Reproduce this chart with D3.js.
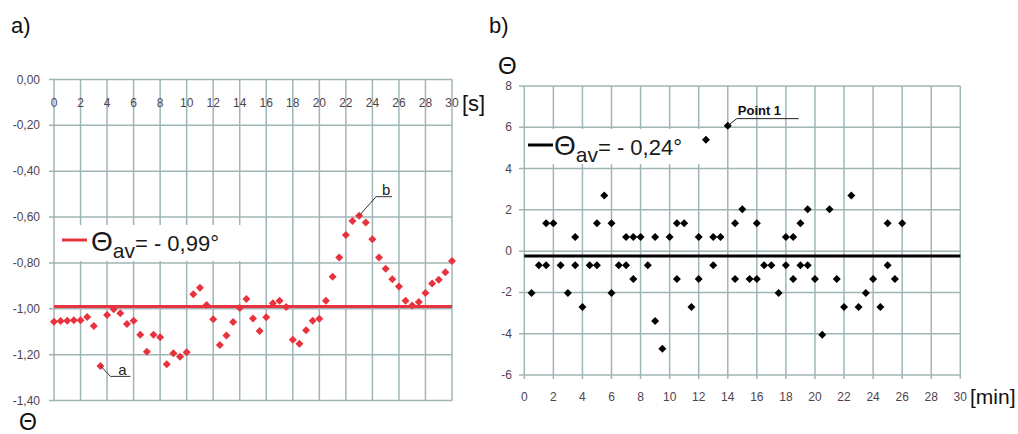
<!DOCTYPE html>
<html>
<head>
<meta charset="utf-8">
<script src="https://cdn.jsdelivr.net/npm/d3@7"></script>
<style>
  html, body { margin: 0; padding: 0; background: #fff; }
  svg { display: block; font-family: "Liberation Sans", Arial, sans-serif; }
</style>
</head>
<body>
<svg id="chart" width="1018" height="434"></svg>
<script>
// ---- Panel a: angle over 30 s, sampled every 0.5 s ----
const timeA = [0,0.5,1,1.5,2,2.5,3,3.5,4,4.5,5,5.5,6,6.5,7,7.5,8,8.5,9,9.5,10,10.5,11,11.5,12,12.5,13,13.5,14,14.5,15,15.5,16,16.5,17,17.5,18,18.5,19,19.5,20,20.5,21,21.5,22,22.5,23,23.5,24,24.5,25,25.5,26,26.5,27,27.5,28,28.5,29,29.5,30];
const thetaA = [-1.056,-1.053,-1.052,-1.050,-1.050,-1.036,-1.075,-1.249,-1.027,-1.002,-1.020,-1.066,-1.052,-1.113,-1.187,-1.113,-1.124,-1.242,-1.194,-1.209,-1.190,-0.937,-0.908,-0.983,-1.046,-1.158,-1.117,-1.058,-0.997,-0.957,-1.042,-1.097,-1.037,-0.976,-0.965,-0.992,-1.135,-1.153,-1.094,-1.052,-1.043,-0.965,-0.860,-0.776,-0.678,-0.617,-0.594,-0.624,-0.697,-0.776,-0.825,-0.871,-0.903,-0.965,-0.986,-0.970,-0.931,-0.890,-0.873,-0.841,-0.792];
const avgA = -0.99;
const yTicksA = [0,-0.2,-0.4,-0.6,-0.8,-1.0,-1.2,-1.4];
const xTicksA = [0,2,4,6,8,10,12,14,16,18,20,22,24,26,28,30];

// ---- Panel b: angle over 26 min ----
const timeB = [0.5,1,1.5,1.5,2,2.5,3,3.5,3.5,4,4.5,5,5,5.5,6,6,6.5,7,7,7.5,7.5,8,8.5,9,9,9.5,10,10.5,10.5,11,11.5,12,12,12.5,13,13,13.5,14,14.5,14.5,15,15.5,16,16,16.5,17,17.5,18,18,18.5,18.5,19,19,19.5,19.5,20,20.5,21,21.5,22,22.5,23,23.5,24,24.5,25,25,25.5,26];
const thetaB = [-2.03,-0.68,-0.68,1.35,1.35,-0.68,-2.03,-0.68,0.68,-2.70,-0.68,-0.68,1.35,2.70,1.35,-2.03,-0.68,-0.68,0.68,0.68,-1.35,0.68,-0.68,0.68,-3.38,-4.73,0.68,1.35,-1.35,1.35,-2.70,0.68,-1.35,5.40,0.68,-0.68,0.68,6.08,1.35,-1.35,2.03,-1.35,1.35,-1.35,-0.68,-0.68,-2.03,0.68,-0.68,0.68,-1.35,1.35,-0.68,2.03,-0.68,-1.35,-4.05,2.03,-1.35,-2.70,2.70,-2.70,-2.03,-1.35,-2.70,1.35,-0.68,-1.35,1.35];
const avgB = -0.24;
const yTicksB = [8,6,4,2,0,-2,-4,-6];
const xTicksB = [0,2,4,6,8,10,12,14,16,18,20,22,24,26,28,30];

const svg = d3.select("#chart");
const gridColor = "#a0b6b6";
const tickColor = "#4f4350";
const red = "#e8323e";
// two decimals, decimal comma, plain hyphen for negatives
const commaFmt = v => v.toFixed(2).replace(".", ",");

// ================= Panel a =================
const xA = d3.scaleLinear().domain([0, 30]).range([54, 452]);
const yA = d3.scaleLinear().domain([-1.4, 0]).range([400.5, 79.5]);
const gA = svg.append("g");

// horizontal gridlines with left tick stubs
gA.selectAll("line.hA").data(yTicksA).join("line")
  .attr("x1", 49).attr("x2", xA(30))
  .attr("y1", d => yA(d)).attr("y2", d => yA(d))
  .attr("stroke", gridColor).attr("stroke-width", 1.5);
// vertical gridlines
gA.selectAll("line.vA").data(xTicksA).join("line")
  .attr("x1", d => xA(d)).attr("x2", d => xA(d))
  .attr("y1", yA(0)).attr("y2", yA(-1.4))
  .attr("stroke", gridColor).attr("stroke-width", 1.5);

// y tick labels
gA.selectAll("text.ya").data(yTicksA).join("text")
  .attr("x", 40).attr("y", d => yA(d) + 4)
  .attr("text-anchor", "end").attr("font-size", 12).attr("fill", tickColor)
  .text(d => commaFmt(d));
// x tick labels just under the top axis
gA.selectAll("text.xa").data(xTicksA).join("text")
  .attr("x", d => xA(d)).attr("y", 107)
  .attr("text-anchor", "middle").attr("font-size", 12).attr("fill", tickColor)
  .text(d => d);

// legend box (covers gridlines)
gA.append("rect").attr("x", 56).attr("y", 225).attr("width", 190).attr("height", 36).attr("fill", "#fff");
gA.append("line").attr("x1", 62).attr("x2", 87).attr("y1", 240).attr("y2", 240)
  .attr("stroke", red).attr("stroke-width", 3);
const legA = gA.append("text").attr("x", 91).attr("y", 251).attr("fill", "#1a1a1a");
legA.append("tspan").attr("font-size", 28).text("Θ");
legA.append("tspan").attr("font-size", 21).attr("dy", 7).text("av");
legA.append("tspan").attr("font-size", 22).attr("dy", -7).text("= - 0,99°");

// average line
gA.append("line").attr("x1", xA(0)).attr("x2", xA(30))
  .attr("y1", yA(avgA)).attr("y2", yA(avgA))
  .attr("stroke", red).attr("stroke-width", 3);

// markers
const diamond = d3.symbol(d3.symbolSquare, 32)();
gA.selectAll("path.ma").data(timeA.map((t, i) => [t, thetaA[i]])).join("path")
  .attr("d", diamond)
  .attr("transform", d => `translate(${xA(d[0])},${yA(d[1])}) rotate(45)`)
  .attr("fill", red);

// annotations a and b
const ptA = [3.5, -1.249];
gA.append("polyline")
  .attr("points", `${xA(ptA[0])},${yA(ptA[1])} ${xA(ptA[0]) + 10},${yA(ptA[1]) + 10.5} ${xA(ptA[0]) + 30},${yA(ptA[1]) + 10.5}`)
  .attr("fill", "none").attr("stroke", "#333").attr("stroke-width", 1);
gA.append("text").attr("x", xA(ptA[0]) + 22).attr("y", yA(ptA[1]) + 9)
  .attr("text-anchor", "middle").attr("font-size", 15).attr("fill", "#222").text("a");
const ptB = [23, -0.594];
gA.append("polyline")
  .attr("points", `${xA(ptB[0])},${yA(ptB[1])} ${xA(ptB[0]) + 17},${yA(ptB[1]) - 19} ${xA(ptB[0]) + 33},${yA(ptB[1]) - 19}`)
  .attr("fill", "none").attr("stroke", "#333").attr("stroke-width", 1);
gA.append("text").attr("x", xA(ptB[0]) + 27).attr("y", yA(ptB[1]) - 21)
  .attr("text-anchor", "middle").attr("font-size", 15).attr("fill", "#222").text("b");

// titles / units
svg.append("text").attr("x", 11).attr("y", 33).attr("font-size", 22).attr("fill", "#111").text("a)");
svg.append("text").attr("x", 462).attr("y", 111).attr("font-size", 22).attr("fill", "#111").text("[s]");
svg.append("text").attr("x", 19).attr("y", 430).attr("font-size", 23).attr("fill", "#111").text("Θ");

// ================= Panel b =================
const xB = d3.scaleLinear().domain([0, 30]).range([524.3, 960.3]);
const yB = d3.scaleLinear().domain([-6, 8]).range([375, 86]);
const gB = svg.append("g");

gB.selectAll("line.hB").data(yTicksB).join("line")
  .attr("x1", 519).attr("x2", xB(30))
  .attr("y1", d => yB(d)).attr("y2", d => yB(d))
  .attr("stroke", gridColor).attr("stroke-width", 1.5);
gB.selectAll("line.vB").data(xTicksB).join("line")
  .attr("x1", d => xB(d)).attr("x2", d => xB(d))
  .attr("y1", yB(8)).attr("y2", yB(-6) + 4)
  .attr("stroke", gridColor).attr("stroke-width", 1.5);

gB.selectAll("text.yb").data(yTicksB).join("text")
  .attr("x", 512).attr("y", d => yB(d) + 4)
  .attr("text-anchor", "end").attr("font-size", 12).attr("fill", tickColor)
  .text(d => d);
gB.selectAll("text.xb").data(xTicksB).join("text")
  .attr("x", d => xB(d)).attr("y", 401)
  .attr("text-anchor", "middle").attr("font-size", 12).attr("fill", tickColor)
  .text(d => d);

// legend box
gB.append("rect").attr("x", 526).attr("y", 129).attr("width", 174).attr("height", 35).attr("fill", "#fff");
gB.append("line").attr("x1", 528).attr("x2", 553).attr("y1", 145).attr("y2", 145)
  .attr("stroke", "#000").attr("stroke-width", 3);
const legB = gB.append("text").attr("x", 554).attr("y", 155).attr("fill", "#1a1a1a");
legB.append("tspan").attr("font-size", 28).text("Θ");
legB.append("tspan").attr("font-size", 21).attr("dy", 7).text("av");
legB.append("tspan").attr("font-size", 22).attr("dy", -7).text("= - 0,24°");

// average line
gB.append("line").attr("x1", xB(0)).attr("x2", xB(30))
  .attr("y1", yB(avgB)).attr("y2", yB(avgB))
  .attr("stroke", "#000").attr("stroke-width", 3);

// markers
gB.selectAll("path.mb").data(timeB.map((t, i) => [t, thetaB[i]])).join("path")
  .attr("d", diamond)
  .attr("transform", d => `translate(${xB(d[0])},${yB(d[1])}) rotate(45)`)
  .attr("fill", "#000");

// Point 1 annotation
const p1 = [14, 6.08];
gB.append("polyline")
  .attr("points", `${xB(p1[0])},${yB(p1[1])} ${xB(p1[0]) + 9},${yB(p1[1]) - 7} ${xB(p1[0]) + 71},${yB(p1[1]) - 7}`)
  .attr("fill", "none").attr("stroke", "#222").attr("stroke-width", 1);
gB.append("text").attr("x", xB(p1[0]) + 10).attr("y", yB(p1[1]) - 11)
  .attr("font-size", 13).attr("font-weight", "bold").attr("fill", "#111").text("Point 1");

svg.append("text").attr("x", 489).attr("y", 33).attr("font-size", 22).attr("fill", "#111").text("b)");
svg.append("text").attr("x", 498).attr("y", 74).attr("font-size", 24).attr("fill", "#111").text("Θ");
svg.append("text").attr("x", 970).attr("y", 404).attr("font-size", 21).attr("fill", "#111").text("[min]");
</script>
</body>
</html>
